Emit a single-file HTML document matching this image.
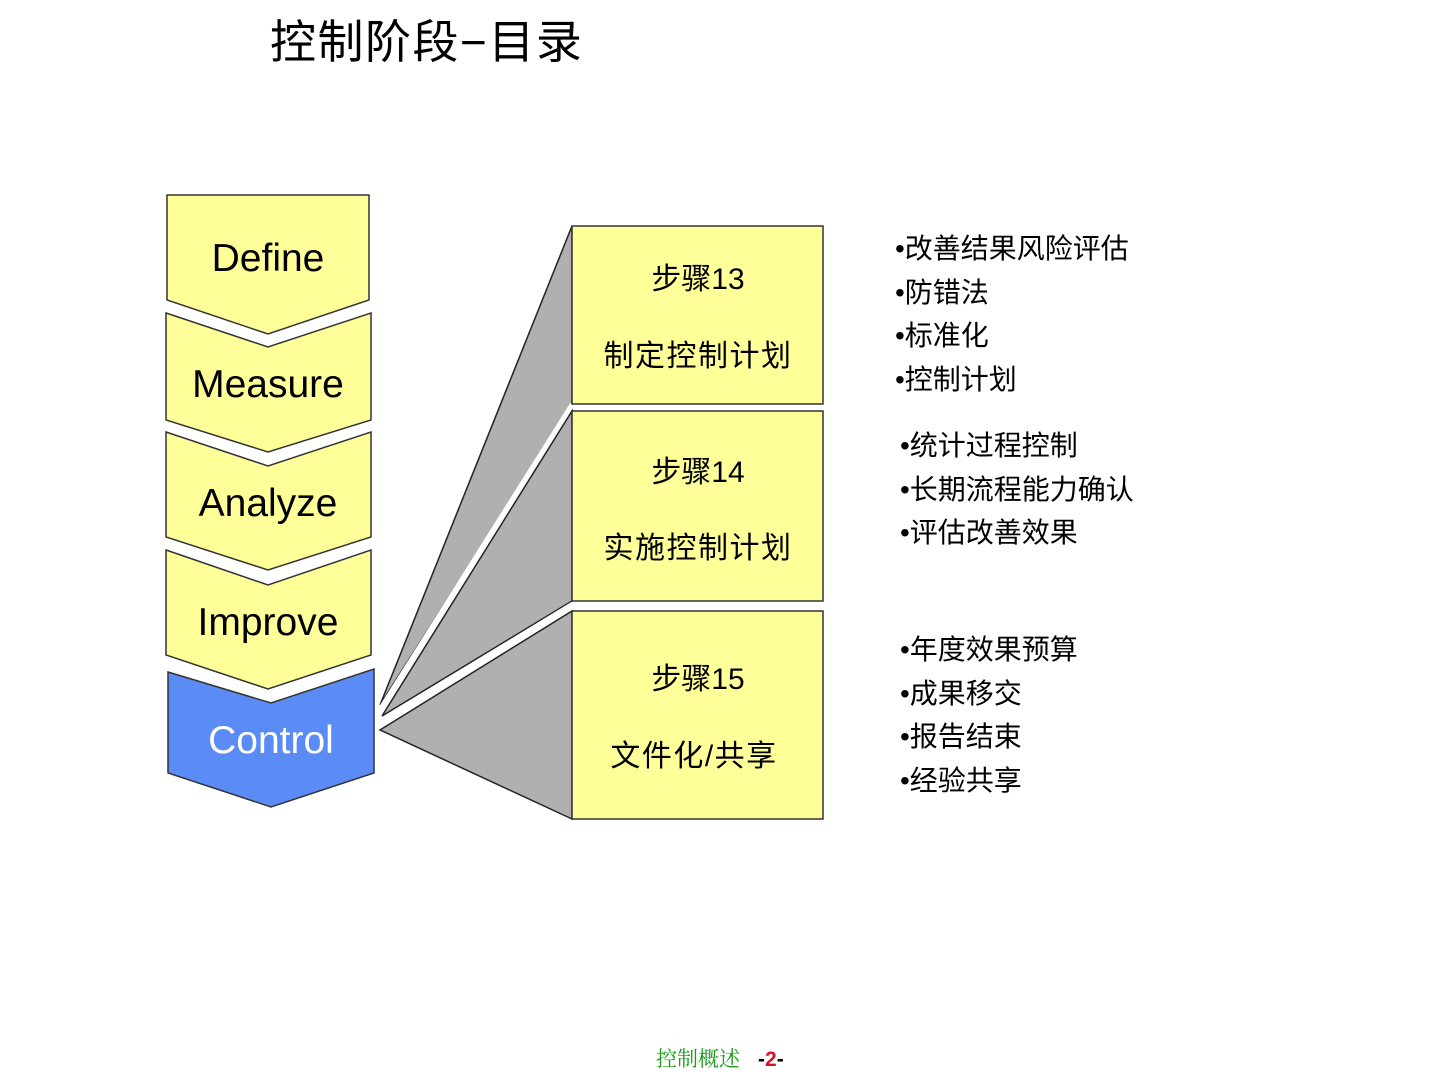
<!DOCTYPE html>
<html><head><meta charset="utf-8"><style>
body{margin:0;background:#fff;}
svg text{font-family:"Liberation Sans","Noto Sans CJK SC",sans-serif;}
</style></head><body>
<svg width="1440" height="1080" viewBox="0 0 1440 1080" xmlns="http://www.w3.org/2000/svg">
<text x="270" y="58" font-size="46" fill="#000" letter-spacing="1.5">控制阶段−目录</text>
<g stroke="#333" stroke-width="1.5" fill="#ffff99">
<polygon points="167,195 369,195 369,300 268,334 167,300"/>
<polygon points="166,313 268,347 371,313 371,420 268,452 166,420"/>
<polygon points="166,432 268,466 371,432 371,537 268,570 166,537"/>
<polygon points="166,550 268,585 371,550 371,655 268,689 166,655"/>
<polygon points="168,672 271,703 374,669 374,773 271,807 168,773" fill="#5b8cf5"/>
</g>
<g font-size="39" text-anchor="middle" fill="#000">
<text x="268" y="271">Define</text>
<text x="268" y="397">Measure</text>
<text x="268" y="516">Analyze</text>
<text x="268" y="635">Improve</text>
<text x="271" y="753" fill="#fff">Control</text>
</g>
<g fill="#b0b0b0" stroke="#222" stroke-width="1.5">
<polygon points="380,705 572,226 572,404"/>
<polygon points="382,716 572,411 572,601"/>
<polygon points="380,730 572,611 572,819"/>
</g>
<line x1="378" y1="712" x2="572" y2="404" stroke="#fff" stroke-width="4"/>
<line x1="378" y1="722" x2="572" y2="604" stroke="#fff" stroke-width="4"/>
<g fill="#ffff99" stroke="#333" stroke-width="1.5">
<rect x="572" y="226" width="251" height="178"/>
<rect x="572" y="411" width="251" height="190"/>
<rect x="572" y="611" width="251" height="208"/>
</g>
<g font-size="30" text-anchor="middle" fill="#000">
<text x="698" y="289">步骤13</text>
<text x="698" y="366" letter-spacing="1.5">制定控制计划</text>
<text x="698" y="482">步骤14</text>
<text x="698" y="558" letter-spacing="1.5">实施控制计划</text>
<text x="698" y="689">步骤15</text>
<text x="694" y="766" letter-spacing="1.5">文件化/共享</text>
</g>
<g font-size="28" fill="#000">
<text x="895" y="258">•改善结果风险评估</text>
<text x="895" y="302">•防错法</text>
<text x="895" y="345">•标准化</text>
<text x="895" y="389">•控制计划</text>
<text x="900" y="455">•统计过程控制</text>
<text x="900" y="499">•长期流程能力确认</text>
<text x="900" y="542">•评估改善效果</text>
<text x="900" y="659">•年度效果预算</text>
<text x="900" y="703">•成果移交</text>
<text x="900" y="746">•报告结束</text>
<text x="900" y="790">•经验共享</text>
</g>
<text x="656" y="1066" font-size="21" fill="#1a9a1a" style="font-family:'Liberation Serif','Noto Serif CJK SC',serif">控制概述</text>
<text x="758" y="1066" font-size="21" font-weight="bold">-<tspan fill="#e0102a">2</tspan>-</text>
</svg>
</body></html>
